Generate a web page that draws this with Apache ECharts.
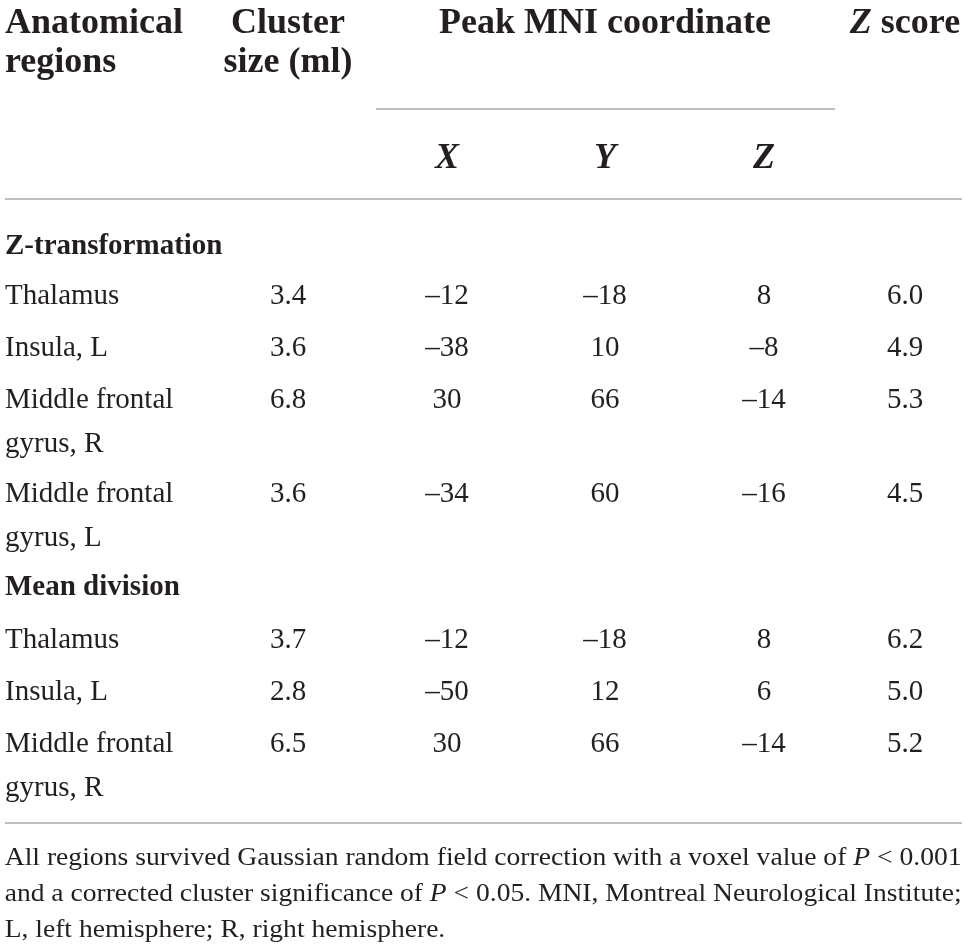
<!DOCTYPE html>
<html>
<head>
<meta charset="utf-8">
<script src="https://cdn.jsdelivr.net/npm/echarts@6/dist/echarts.min.js"></script>
<style>
    html, body {margin: 0; padding: 0; background: #fff;}
    #table {width: 968px; height: 951px;}
</style>
</head>
<body>
<div id="table"></div>
<script>
// table text and values
var headRegion = ['Anatomical', 'regions'];
var headCluster = ['Cluster', 'size (ml)'];
var headPeak = 'Peak MNI coordinate';
var headAxes = ['X', 'Y', 'Z'];
var headScore = '{bi|Z} score';

var sectionNames = ['Z-transformation', 'Mean division'];

var zRegions = [['Thalamus'], ['Insula, L'], ['Middle frontal', 'gyrus, R'], ['Middle frontal', 'gyrus, L']];
var zCluster = [3.4, 3.6, 6.8, 3.6];
var zPeakX = [-12, -38, 30, -34];
var zPeakY = [-18, 10, 66, 60];
var zPeakZ = [8, -8, -14, -16];
var zScore = [6.0, 4.9, 5.3, 4.5];

var mRegions = [['Thalamus'], ['Insula, L'], ['Middle frontal', 'gyrus, R']];
var mCluster = [3.7, 2.8, 6.5];
var mPeakX = [-12, -50, 30];
var mPeakY = [-18, 12, 66];
var mPeakZ = [8, 6, -14];
var mScore = [6.2, 5.0, 5.2];

var footnoteLines = [
    'All regions survived Gaussian random field correction with a voxel value of {i|P} < 0.001',
    'and a corrected cluster significance of {i|P} < 0.05. MNI, Montreal Neurological Institute;',
    'L, left hemisphere; R, right hemisphere.'
];

// layout
var fontFamily = '"Liberation Serif", "Times New Roman", serif';
var ink = '#231f20';
var ruleColor = '#a8a8a8';
var colX = [5, 288, 447, 605, 764, 905];
var headLine1 = 23.5, headLine2 = 62.5, axesLine = 158.5;
var firstRowY = 247, firstPitch = 49, rowPitch = 52, wrapExtra = 42, wrapOffset = 44;
var footY = [858, 894, 930];
var footLeft = 5, footRight = 962;
var rules = [[376, 835, 109], [5, 962, 199], [5, 962, 823]];

var fonts = {
    head: {size: 36, weight: 'bold', style: 'normal'},
    headItalic: {size: 36, weight: 'bold', style: 'italic'},
    section: {size: 29, weight: 'bold', style: 'normal'},
    body: {size: 29, weight: 'normal', style: 'normal'},
    foot: {size: 26, weight: 'normal', style: 'normal'}
};

function fmt(v, digits) {
    var s = digits ? Math.abs(v).toFixed(digits) : String(Math.abs(v));
    return (v < 0 ? '\u2013' : '') + s;
}

var cells = [];

function addCell(x, y, text, kind, align) {
    cells.push({x: x, y: y, text: text, kind: kind, align: align || 'center'});
}

// header
addCell(colX[0], headLine1, headRegion[0], 'head', 'left');
addCell(colX[0], headLine2, headRegion[1], 'head', 'left');
addCell(colX[1], headLine1, headCluster[0], 'head');
addCell(colX[1], headLine2, headCluster[1], 'head');
addCell(colX[3], headLine1, headPeak, 'head');
addCell(colX[5], headLine1, headScore, 'head');
for (var a = 0; a < headAxes.length; a++) {
    addCell(colX[2 + a], axesLine, headAxes[a], 'headItalic');
}

// body rows
var y = firstRowY;

function addSection(name, regions, cluster, px, py, pz, score, pitch) {
    addCell(colX[0], y, name, 'section', 'left');
    y += pitch;
    for (var i = 0; i < regions.length; i++) {
        for (var l = 0; l < regions[i].length; l++) {
            addCell(colX[0], y + l * wrapOffset, regions[i][l], 'body', 'left');
        }
        addCell(colX[1], y, fmt(cluster[i], 1), 'body');
        addCell(colX[2], y, fmt(px[i]), 'body');
        addCell(colX[3], y, fmt(py[i]), 'body');
        addCell(colX[4], y, fmt(pz[i]), 'body');
        addCell(colX[5], y, fmt(score[i], 1), 'body');
        y += rowPitch + (regions[i].length - 1) * wrapExtra;
    }
}

addSection(sectionNames[0], zRegions, zCluster, zPeakX, zPeakY, zPeakZ, zScore, firstPitch);
addSection(sectionNames[1], mRegions, mCluster, mPeakX, mPeakY, mPeakZ, mScore, rowPitch);

// footnote, the first two lines are justified to the full width
var measureCtx = document.createElement('canvas').getContext('2d');

function fontString(f, style) {
    return (style || f.style) + ' ' + f.weight + ' ' + f.size + 'px ' + fontFamily;
}

function richWidth(text, f) {
    var parts = text.split(/(\{i\|[^}]*\})/);
    var w = 0;
    for (var i = 0; i < parts.length; i++) {
        var p = parts[i];
        if (!p) continue;
        var m = p.match(/^\{i\|([^}]*)\}$/);
        measureCtx.font = fontString(f, m ? 'italic' : 'normal');
        w += measureCtx.measureText(m ? m[1] : p).width;
    }
    return w;
}

var footScale = [];
for (var k = 0; k < footnoteLines.length; k++) {
    var natural = richWidth(footnoteLines[k], fonts.foot);
    footScale.push(k < 2 ? (footRight - footLeft) / natural : 1);
    addCell(footLeft, footY[k], footnoteLines[k], 'foot', 'left');
}
footScale[2] = Math.min(footScale[0], footScale[1]);

function richFor(f) {
    return {
        i: {fontFamily: fontFamily, fontSize: f.size, fontWeight: f.weight, fontStyle: 'italic', fill: ink},
        bi: {fontFamily: fontFamily, fontSize: f.size, fontWeight: 'bold', fontStyle: 'italic', fill: ink}
    };
}

var myChart = echarts.init(document.getElementById('table'), null, {renderer: 'canvas'});

var option = {
    animation: false,
    backgroundColor: '#ffffff',
    grid: {left: 0, right: 0, top: 0, bottom: 0},
    xAxis: {type: 'value', min: 0, max: 968, show: false},
    yAxis: {type: 'value', min: 0, max: 951, inverse: true, show: false},
    series: [{
        type: 'custom',
        name: 'rules',
        silent: true,
        clip: false,
        encode: {x: [0, 1], y: 2},
        data: rules,
        renderItem: function (params, api) {
            var p1 = api.coord([api.value(0), api.value(2)]);
            var p2 = api.coord([api.value(1), api.value(2)]);
            return {
                type: 'line',
                shape: {x1: p1[0], y1: p1[1], x2: p2[0], y2: p2[1]},
                style: {stroke: ruleColor, lineWidth: 1.5}
            };
        }
    }, {
        type: 'custom',
        name: 'cells',
        silent: true,
        clip: false,
        encode: {x: 0, y: 1},
        data: cells.map(function (c) { return [c.x, c.y]; }),
        renderItem: function (params, api) {
            var c = cells[params.dataIndex];
            var f = fonts[c.kind];
            var p = api.coord([api.value(0), api.value(1)]);
            var el = {
                type: 'text',
                x: p[0],
                y: p[1],
                style: {
                    text: c.text,
                    fontFamily: fontFamily,
                    fontSize: f.size,
                    fontWeight: f.weight,
                    fontStyle: f.style,
                    fill: ink,
                    align: c.align,
                    verticalAlign: 'middle',
                    rich: richFor(f)
                }
            };
            if (c.kind === 'foot') {
                var idx = footnoteLines.indexOf(c.text);
                el.scaleX = footScale[idx];
                el.originX = p[0];
            }
            return el;
        }
    }]
};

myChart.setOption(option);
</script>
</body>
</html>
